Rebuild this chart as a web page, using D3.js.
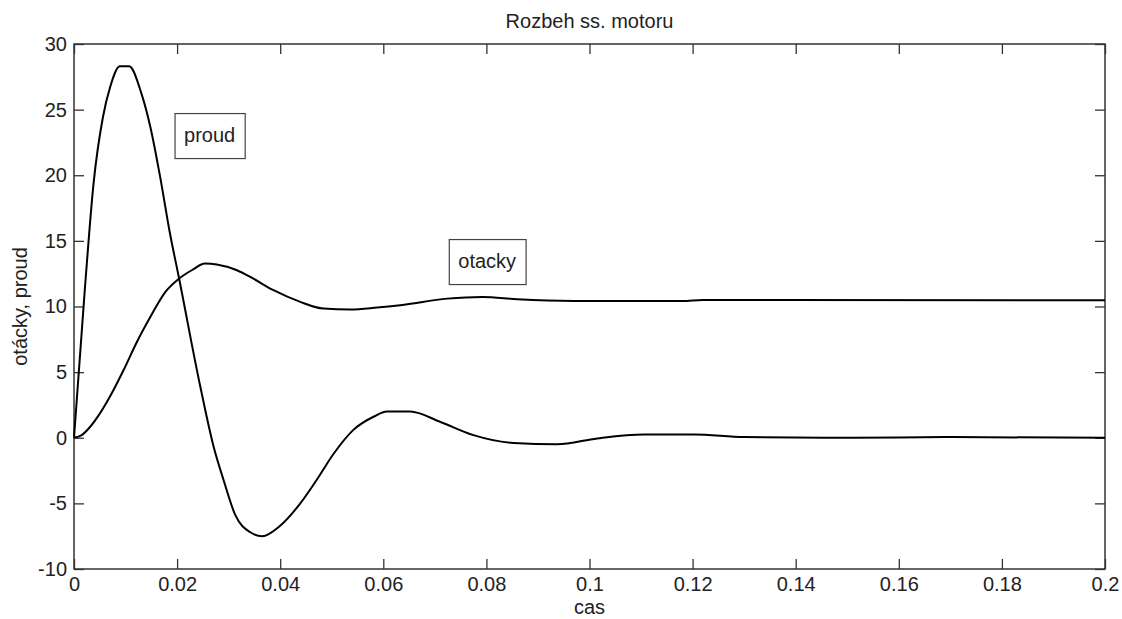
<!DOCTYPE html>
<html>
<head>
<meta charset="utf-8">
<script src="https://cdn.jsdelivr.net/npm/d3@7"></script>
<style>
    body { margin: 0; background: #fff; }
    text { font-family: "Liberation Sans", Arial, sans-serif; fill: #222; }
</style>
</head>
<body>
<div id="chart"></div>
<script>
// proud (current) samples
const proudT = [0, 0.0021, 0.0038, 0.0056, 0.0070, 0.0089, 0.0107, 0.0131, 0.0148, 0.0167, 0.0186, 0.0203,
    0.0245, 0.0271, 0.0290, 0.0313, 0.0342, 0.0365, 0.0400, 0.0439, 0.0471, 0.0504, 0.0542, 0.0581, 0.0607,
    0.0652, 0.0711, 0.0775, 0.0853, 0.0937, 0.1015, 0.1105, 0.1203, 0.1300, 0.1500, 0.1700, 0.2000];
const proudV = [0, 11.3, 19.4, 24.4, 26.7, 28.3, 28.3, 26.2, 23.7, 19.9, 15.6, 12.3,
    3.9, -0.7, -3.2, -5.9, -7.2, -7.5, -6.7, -5.0, -3.2, -1.2, 0.6, 1.6, 2.0,
    2.0, 1.2, 0.2, -0.4, -0.5, -0.05, 0.25, 0.25, 0.05, 0.0, 0.05, 0.0];

// otacky (speed) samples
const otackyT = [0, 0.0015, 0.0031, 0.0050, 0.0073, 0.0096, 0.0122, 0.0148, 0.0177, 0.0203, 0.0230,
    0.0254, 0.0277, 0.0316, 0.0342, 0.0387, 0.0439, 0.0484, 0.0536, 0.0588, 0.0633, 0.0724, 0.0792,
    0.0860, 0.0970, 0.1180, 0.1220, 0.2000];
const otackyV = [0, 0.2, 0.82, 1.84, 3.37, 5.14, 7.3, 9.2, 11.1, 12.1, 12.8,
    13.27, 13.2, 12.76, 12.25, 11.24, 10.35, 9.84, 9.77, 9.92, 10.1, 10.6, 10.73,
    10.55, 10.42, 10.42, 10.5, 10.48];

const xTicks = [0, 0.02, 0.04, 0.06, 0.08, 0.1, 0.12, 0.14, 0.16, 0.18, 0.2];
const yTicks = [-10, -5, 0, 5, 10, 15, 20, 25, 30];

// text annotations: label, anchor t, anchor value (top-left corner of the box)
const notes = [
    { text: "proud", t: 0.0196, v: 24.7 },
    { text: "otacky", t: 0.0728, v: 15.1 }
];

const W = 1122, H = 619;
const margin = { top: 44, right: 17, bottom: 50, left: 74 };
const width = W - margin.left - margin.right;
const height = H - margin.top - margin.bottom;
const fontSize = "20px";

const svgRoot = d3.select("#chart").append("svg")
    .attr("width", W)
    .attr("height", H);

svgRoot.append("rect").attr("width", W).attr("height", H).attr("fill", "#fff");

const svg = svgRoot.append("g")
    .attr("transform", "translate(" + margin.left + "," + margin.top + ")");

const x = d3.scaleLinear().domain([0, 0.2]).range([0, width]);
const y = d3.scaleLinear().domain([-10, 30]).range([height, 0]);

const fmt = d => String(+d.toFixed(2));
const tickLen = 10;

// axes - ticks point inward, mirrored on top and right
function styleAxis(g) {
    g.attr("font-size", null).attr("font-family", null);
    g.select(".domain").remove();
    g.selectAll(".tick line").attr("stroke", "#333").attr("stroke-width", 1.3);
    g.selectAll(".tick text").style("font-size", fontSize).attr("fill", "#222");
}

svg.append("g")
    .attr("transform", "translate(0," + height + ")")
    .call(d3.axisBottom(x).tickValues(xTicks).tickFormat(fmt).tickSizeInner(-tickLen).tickSizeOuter(0).tickPadding(8))
    .call(styleAxis);

svg.append("g")
    .call(d3.axisTop(x).tickValues(xTicks).tickFormat("").tickSizeInner(-tickLen).tickSizeOuter(0))
    .call(styleAxis);

svg.append("g")
    .call(d3.axisLeft(y).tickValues(yTicks).tickFormat(d => String(d)).tickSizeInner(-tickLen).tickSizeOuter(0).tickPadding(7))
    .call(styleAxis);

svg.append("g")
    .attr("transform", "translate(" + width + ",0)")
    .call(d3.axisRight(y).tickValues(yTicks).tickFormat("").tickSizeInner(-tickLen).tickSizeOuter(0))
    .call(styleAxis);

svg.append("rect")
    .attr("width", width)
    .attr("height", height)
    .attr("fill", "none")
    .attr("stroke", "#333")
    .attr("stroke-width", 1.5);

// curves
const line = d3.line()
    .x(d => x(d[0]))
    .y(d => y(d[1]))
    .curve(d3.curveMonotoneX);

const series = [
    d3.zip(proudT, proudV),
    d3.zip(otackyT, otackyV)
];

svg.selectAll(".curve")
    .data(series)
    .enter()
    .append("path")
    .attr("class", "curve")
    .attr("d", line)
    .attr("fill", "none")
    .attr("stroke", "#000")
    .attr("stroke-width", 2)
    .attr("stroke-linejoin", "round");

// boxed labels
notes.forEach(function (n) {
    let g = svg.append("g")
        .attr("transform", "translate(" + x(n.t) + "," + y(n.v) + ")");
    let rect = g.append("rect").attr("fill", "#fff").attr("stroke", "#444").attr("stroke-width", 1.2);
    let txt = g.append("text")
        .attr("x", 9)
        .attr("y", 28)
        .style("font-size", fontSize)
        .text(n.text);
    let w = txt.node().getComputedTextLength();
    rect.attr("width", w + 19).attr("height", 45);
});

// titles
svgRoot.append("text")
    .attr("x", margin.left + width / 2)
    .attr("y", 28)
    .attr("text-anchor", "middle")
    .style("font-size", fontSize)
    .text("Rozbeh ss. motoru");

svgRoot.append("text")
    .attr("x", margin.left + width / 2)
    .attr("y", 614)
    .attr("text-anchor", "middle")
    .style("font-size", fontSize)
    .text("cas");

svgRoot.append("text")
    .attr("transform", "translate(27," + (margin.top + height / 2) + ") rotate(-90)")
    .attr("text-anchor", "middle")
    .style("font-size", fontSize)
    .text("otácky, proud");
</script>
</body>
</html>
